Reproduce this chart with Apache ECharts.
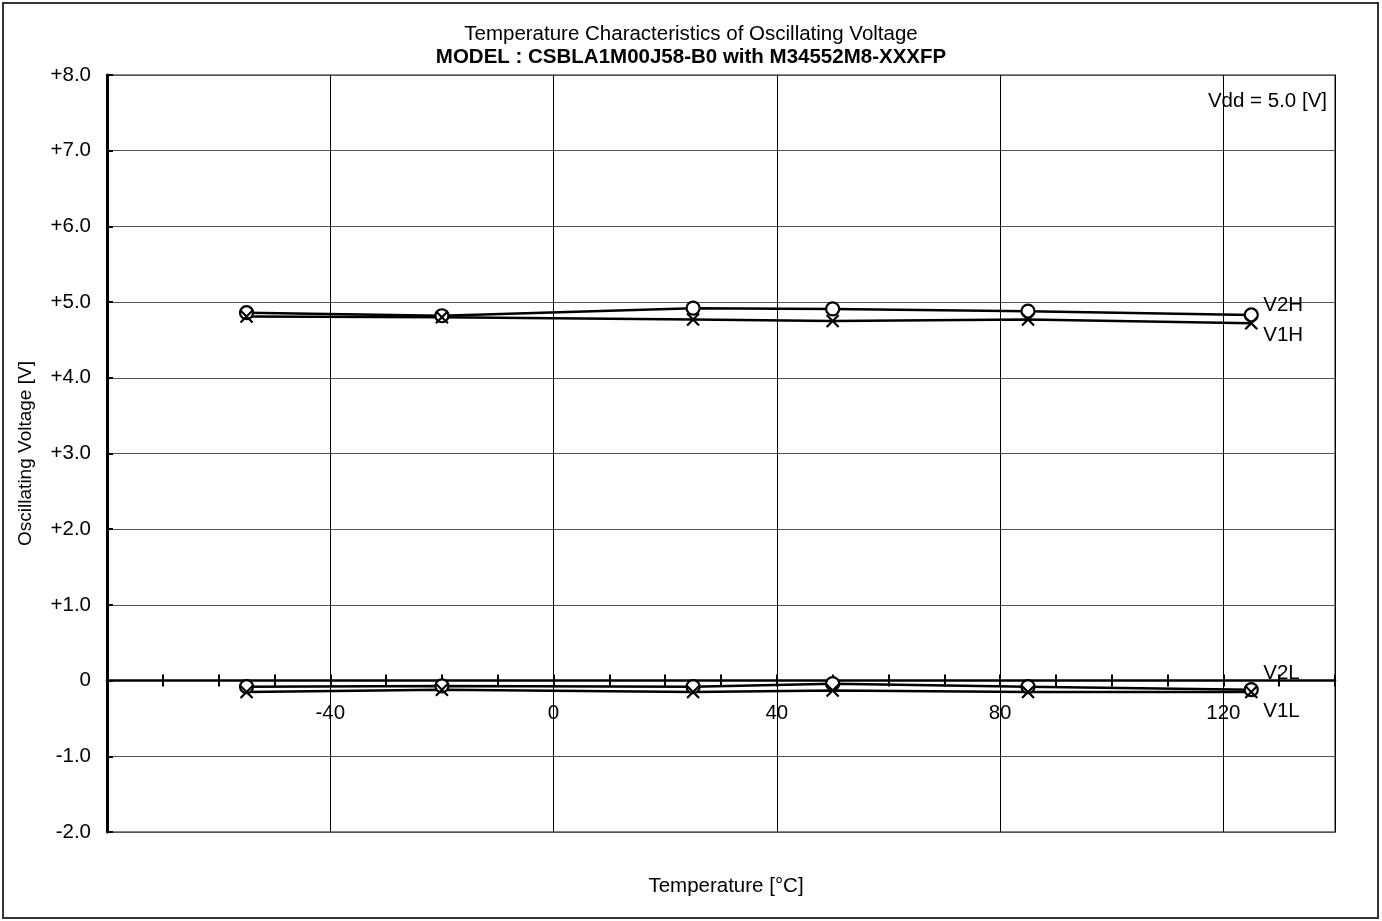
<!DOCTYPE html>
<html>
<head>
<meta charset="utf-8">
<script src="https://cdn.jsdelivr.net/npm/echarts@6/dist/echarts.min.js"></script>
<style>html,body{margin:0;padding:0;background:#fff;}#c{width:1382px;height:921px;}</style>
</head>
<body>
<div id="c"></div>
<script>
const titleText = 'Temperature Characteristics of Oscillating Voltage';
const subtitleText = 'MODEL : CSBLA1M00J58-B0 with M34552M8-XXXFP';
const xName = 'Temperature [°C]';
const yName = 'Oscillating Voltage [V]';
const noteText = 'Vdd = 5.0 [V]';
const temps = [-55, -20, 25, 50, 85, 125];
const v2h = [4.86, 4.82, 4.92, 4.91, 4.88, 4.83];
const v1h = [4.81, 4.80, 4.77, 4.75, 4.77, 4.72];
const v2l = [-0.08, -0.07, -0.08, -0.04, -0.08, -0.12];
const v1l = [-0.15, -0.12, -0.15, -0.13, -0.15, -0.15];
const seriesNames = ['V2H', 'V1H', 'V2L', 'V1L'];

const FONT = '"Liberation Sans", Arial, sans-serif';
const zip = arr => temps.map((t, i) => [t, arr[i]]);
const crossSym = 'path://M0,0L10,10M10,0L0,10';

const GRID = { left: 107, top: 75, right: 47, bottom: 89 };
const Y_MIN = -2, Y_MAX = 8;
const plotH = 921 - GRID.top - GRID.bottom;
const zeroOffset = -plotH * (0 - Y_MIN) / (Y_MAX - Y_MIN);

function mkSeries(name, arr, isCircle, labelOffset) {
  return {
    name: name, type: 'line', data: zip(arr),
    xAxisIndex: 0, yAxisIndex: 0,
    symbol: isCircle ? 'circle' : crossSym,
    symbolSize: isCircle ? 13 : 12,
    showAllSymbol: true,
    lineStyle: { color: '#000', width: 2.5 },
    itemStyle: isCircle ? { color: '#fff', borderColor: '#000', borderWidth: 2.2 }
                        : { color: 'none', borderColor: '#000', borderWidth: 2.2 },
    endLabel: { show: true, formatter: '{a}', color: '#000', fontFamily: FONT, fontSize: 20.5, offset: labelOffset, distance: 12 },
    emphasis: { disabled: true },
    animation: false,
    z: 5
  };
}

const chart = echarts.init(document.getElementById('c'), null, { renderer: 'canvas' });
const xBase = { type: 'value', min: -80, max: 140, gridIndex: 0 };
chart.setOption({
  animation: false,
  backgroundColor: '#fff',
  title: [
    { text: titleText, left: 'center', top: 19, textStyle: { fontFamily: FONT, fontSize: 20.5, fontWeight: 'normal', color: '#000' } },
    { text: subtitleText, left: 'center', top: 42, textStyle: { fontFamily: FONT, fontSize: 20.5, fontWeight: 'bold', color: '#000' } },
    { text: xName, left: 721, textAlign: 'center', top: 871, textStyle: { fontFamily: FONT, fontSize: 20.5, fontWeight: 'normal', color: '#000' } },
    { text: noteText, right: 50, top: 86, textStyle: { fontFamily: FONT, fontSize: 20.5, fontWeight: 'normal', color: '#000' } }
  ],
  graphic: [
    { type: 'rect', shape: { x: 3, y: 3, width: 1375, height: 915 }, style: { fill: 'none', stroke: '#333', lineWidth: 2 }, z: -1 }
  ],
  grid: Object.assign({ show: true, borderColor: '#888', borderWidth: 2, backgroundColor: 'transparent' }, GRID),
  xAxis: [
    Object.assign({}, xBase, {
      position: 'bottom', interval: 40, offset: zeroOffset,
      axisLine: { show: true, onZero: false, lineStyle: { color: '#000', width: 2.5 } },
      axisTick: { show: false },
      axisLabel: { show: true, margin: 22, color: '#000', fontFamily: FONT, fontSize: 20.5,
        formatter: v => (v === -80 || v === 140) ? '' : String(v) },
      splitLine: { show: true, lineStyle: { color: '#000', width: 1 } }
    }),
    Object.assign({}, xBase, {
      position: 'bottom', interval: 10, offset: zeroOffset,
      axisLine: { show: false, onZero: false },
      axisTick: { show: true, inside: true, length: 6, lineStyle: { color: '#000', width: 2 } },
      axisLabel: { show: false }, splitLine: { show: false }
    }),
    Object.assign({}, xBase, {
      position: 'bottom', interval: 10, offset: zeroOffset,
      axisLine: { show: false, onZero: false },
      axisTick: { show: true, inside: false, length: 6, lineStyle: { color: '#000', width: 2 } },
      axisLabel: { show: false }, splitLine: { show: false }
    })
  ],
  yAxis: [{
    type: 'value', min: Y_MIN, max: Y_MAX, interval: 1,
    name: yName, nameLocation: 'middle', nameGap: 72, nameRotate: 90,
    nameTextStyle: { fontFamily: FONT, fontSize: 19, color: '#000' },
    axisLine: { show: true, onZero: false, lineStyle: { color: '#000', width: 3 } },
    axisTick: { show: true, inside: true, length: 6, lineStyle: { color: '#000', width: 2 } },
    axisLabel: { margin: 16, color: '#000', fontFamily: FONT, fontSize: 20.5,
      formatter: v => v > 0 ? '+' + v.toFixed(1) : (v === 0 ? '0' : v.toFixed(1)) },
    splitLine: { show: true, lineStyle: { color: '#555', width: 1 } }
  }],
  series: [
    mkSeries(seriesNames[0], v2h, true, [0, -10]),
    mkSeries(seriesNames[1], v1h, false, [0, 12]),
    mkSeries(seriesNames[2], v2l, true, [0, -16]),
    mkSeries(seriesNames[3], v1l, false, [0, 19])
  ]
});
</script>
</body>
</html>
